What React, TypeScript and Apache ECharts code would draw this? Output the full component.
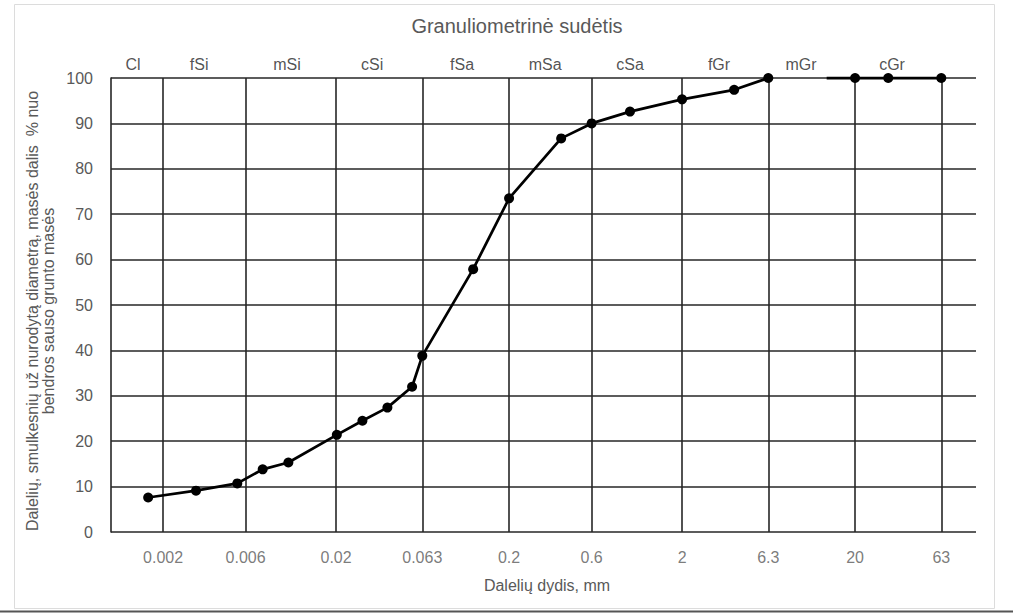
import React, { useEffect, useRef } from "react";
import * as echarts from "echarts";

const titleText = "Granuliometrinė sudėtis";
const xAxisTitle = "Dalelių dydis, mm";
const yAxisTitleLines = [
  "Dalelių, smulkesnių už nurodytą diametrą, masės dalis  % nuo",
  "bendros sauso grunto masės",
];

// Sieve sizes (mm) marked by vertical grid lines and labelled below the axis
const sizeTicks = [0.002, 0.006, 0.02, 0.063, 0.2, 0.6, 2, 6.3, 20, 63];
const sizeTickLabels = ["0.002", "0.006", "0.02", "0.063", "0.2", "0.6", "2", "6.3", "20", "63"];

// Soil fraction names written above the plot, and the sizes (mm) they sit over
const fractionNames = ["Cl", "fSi", "mSi", "cSi", "fSa", "mSa", "cSa", "fGr", "mGr", "cGr"];
const fractionLabelSizes = [0.00134, 0.00323, 0.0104, 0.0323, 0.107, 0.323, 1.0, 3.27, 9.73, 32.7];

// Grading curve, fine part (particle size mm, % passing)
const fineSizes = [0.00164, 0.0031, 0.00537, 0.00753, 0.0106, 0.0202, 0.0284, 0.0396, 0.055, 0.063, 0.124, 0.2, 0.4, 0.6, 1.0, 2.0, 4.0, 6.3];
const finePassing = [7.6, 9.1, 10.7, 13.8, 15.3, 21.4, 24.5, 27.4, 32.0, 38.8, 57.9, 73.5, 86.7, 90.0, 92.6, 95.3, 97.4, 100];

// Grading curve, coarse part (first point drawn without a marker)
const coarseSizes = [13.7, 20, 31.1, 63];
const coarsePassing = [100, 100, 100, 100];

const FONT = '"Liberation Sans", Arial, sans-serif';
const GRID_COLOR = "#262626";

export default function App() {
  const ref = useRef<HTMLDivElement>(null);

  useEffect(() => {
    if (!ref.current) return;
    const chart = echarts.init(ref.current, null, { renderer: "svg" });

    const option: any = {
      animation: false,
      backgroundColor: "#ffffff",
      textStyle: { fontFamily: FONT },
      grid: { left: 111, top: 78, width: 865, height: 454 },
      xAxis: {
        type: "log",
        logBase: 10,
        min: 0.001,
        max: 100,
        axisLine: { show: false },
        axisTick: { show: false },
        axisLabel: { show: false },
        splitLine: { show: false },
        minorTick: { show: false },
        minorSplitLine: { show: false },
      },
      yAxis: {
        type: "value",
        min: 0,
        max: 100,
        interval: 10,
        axisLine: { show: true, lineStyle: { color: GRID_COLOR, width: 1.6 } },
        axisTick: { show: false },
        axisLabel: { color: "#595959", fontSize: 16, margin: 18, fontFamily: FONT },
        splitLine: { show: true, lineStyle: { color: GRID_COLOR, width: 1.6 } },
      },
      series: [
        {
          type: "scatter",
          name: "sizeLabels",
          data: sizeTicks.map((v) => [v, 0]),
          symbolSize: 1,
          itemStyle: { color: "rgba(0,0,0,0)" },
          clip: false,
          silent: true,
          z: 1,
          label: {
            show: true,
            position: "bottom",
            distance: 17,
            color: "#595959",
            fontSize: 16,
            fontFamily: FONT,
            formatter: (p: any) => sizeTickLabels[p.dataIndex],
          },
          markLine: {
            silent: true,
            precision: 6,
            symbol: ["none", "none"],
            label: { show: false },
            lineStyle: { color: GRID_COLOR, width: 1.6, type: "solid" },
            emphasis: { disabled: true },
            data: sizeTicks.map((v) => ({ xAxis: v })),
          },
        },
        {
          type: "scatter",
          name: "fractionLabels",
          data: fractionLabelSizes.map((v) => [v, 100]),
          symbolSize: 1,
          itemStyle: { color: "rgba(0,0,0,0)" },
          clip: false,
          silent: true,
          z: 1,
          label: {
            show: true,
            position: "top",
            distance: 5,
            color: "#262626",
            fontSize: 16,
            fontFamily: FONT,
            formatter: (p: any) => fractionNames[p.dataIndex],
          },
        },
        {
          type: "line",
          name: "fine",
          data: fineSizes.map((x, i) => [x, finePassing[i]]),
          symbol: "circle",
          symbolSize: 10,
          showSymbol: true,
          lineStyle: { color: "#000000", width: 2.75 },
          itemStyle: { color: "#000000" },
          clip: false,
          z: 5,
        },
        {
          type: "line",
          name: "coarse",
          data: coarseSizes.map((x, i) =>
            i === 0
              ? { value: [x, coarsePassing[i]], symbol: "none" }
              : { value: [x, coarsePassing[i]] }
          ),
          symbol: "circle",
          symbolSize: 10,
          showSymbol: true,
          lineStyle: { color: "#000000", width: 2.75 },
          itemStyle: { color: "#000000" },
          clip: false,
          z: 5,
        },
      ],
      graphic: [
        {
          type: "rect",
          shape: { x: 14.5, y: 4.5, width: 980, height: 604 },
          style: { fill: "none", stroke: "#dcdcdc", lineWidth: 1 },
          silent: true,
          z: -10,
        },
        {
          type: "line",
          shape: { x1: 0, y1: 611.5, x2: 1013, y2: 611.5 },
          style: { stroke: "#555555", lineWidth: 2 },
          silent: true,
        },
        {
          type: "text",
          x: 517,
          y: 26,
          style: {
            text: titleText,
            fill: "#595959",
            fontSize: 20,
            fontFamily: FONT,
            align: "center",
            verticalAlign: "middle",
            textAlign: "center",
            textVerticalAlign: "middle",
          },
        },
        {
          type: "text",
          x: 547,
          y: 585,
          style: {
            text: xAxisTitle,
            fill: "#595959",
            fontSize: 16,
            fontFamily: FONT,
            align: "center",
            verticalAlign: "middle",
            textAlign: "center",
            textVerticalAlign: "middle",
          },
        },
        {
          type: "text",
          x: 40,
          y: 311,
          rotation: Math.PI / 2,
          style: {
            text: yAxisTitleLines.join("\n"),
            fill: "#595959",
            fontSize: 16,
            lineHeight: 16,
            fontFamily: FONT,
            align: "center",
            verticalAlign: "middle",
            textAlign: "center",
            textVerticalAlign: "middle",
          },
        },
      ],
    };

    chart.setOption(option);
    return () => {
      chart.dispose();
    };
  }, []);

  return (
    <div
      ref={ref}
      style={{ position: "fixed", left: 0, top: 0, width: 1013, height: 613, background: "#fff" }}
    />
  );
}
